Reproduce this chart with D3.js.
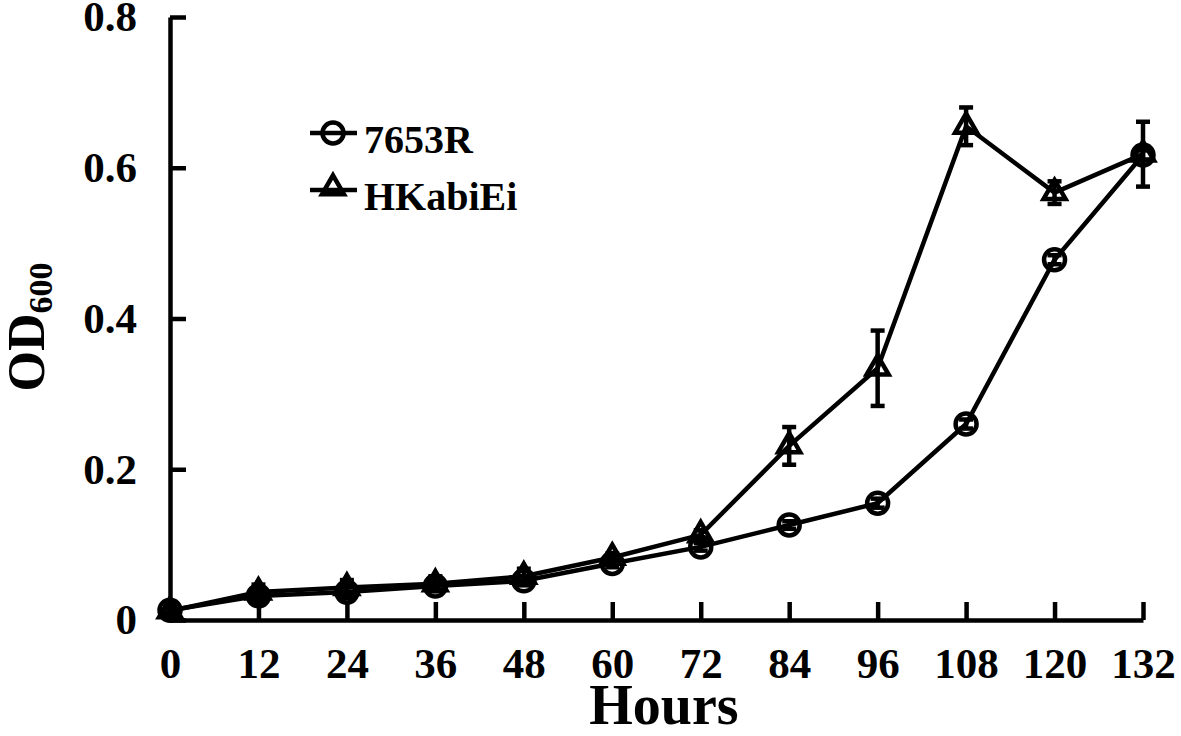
<!DOCTYPE html>
<html>
<head>
<meta charset="utf-8">
<script src="https://cdn.jsdelivr.net/npm/d3@7"></script>
<style>
  body { margin: 0; background: #fff; }
  svg { display: block; font-family: "Liberation Serif", "Times New Roman", serif; font-weight: bold; }
  .axis { font-family: "Liberation Serif", "Times New Roman", serif; }
  .axis path, .axis line { stroke: #000; stroke-width: 4.5; }
  .axis text { font-size: 43px; fill: #000; font-weight: bold; }
  .series path { fill: none; stroke: #000; stroke-width: 4.5; }
  .marker { fill: #fff; stroke: #000; stroke-width: 4.5; }
  .err line { stroke: #000; stroke-width: 4.5; }
</style>
</head>
<body>
<script>
const HOURS = [0, 12, 24, 36, 48, 60, 72, 84, 96, 108, 120, 132];
const OD_7653R = [0.013, 0.032, 0.037, 0.045, 0.052, 0.075, 0.097, 0.126, 0.155, 0.260, 0.478, 0.617];
const SD_7653R = [0.004, 0.008, 0.008, 0.006, 0.006, 0.005, 0.005, 0.005, 0.006, 0.006, 0.006, 0.006];
const OD_HK = [0.012, 0.037, 0.043, 0.048, 0.058, 0.083, 0.113, 0.231, 0.334, 0.655, 0.567, 0.618];
const SD_HK = [0.003, 0.01, 0.01, 0.01, 0.01, 0.005, 0.006, 0.025, 0.05, 0.025, 0.015, 0.043];
const Y_TICKS = [0, 0.2, 0.4, 0.6, 0.8];
const SERIES = ["7653R", "HKabiEi"];

const width = 1181, height = 736;
const x = d3.scaleLinear().domain([0, 132]).range([170, 1143]);
const y = d3.scaleLinear().domain([0, 0.8]).range([620, 17]);

const svg = d3.select("body").append("svg")
  .attr("width", width).attr("height", height);

// axes
svg.append("g")
  .attr("class", "axis")
  .attr("transform", "translate(0,620)")
  .call(d3.axisBottom(x).tickValues(HOURS).tickSize(-18).tickSizeOuter(0).tickPadding(27));

svg.append("g")
  .attr("class", "axis")
  .attr("transform", "translate(170,0)")
  .call(d3.axisLeft(y).tickValues(Y_TICKS).tickSize(-16).tickSizeOuter(0).tickPadding(33)
    .tickFormat(d => d === 0 ? "0" : d.toFixed(1)));

// axis titles
svg.append("text")
  .attr("x", 664).attr("y", 724)
  .attr("text-anchor", "middle")
  .style("font-size", "56px")
  .text("Hours");

const yt = svg.append("text")
  .attr("transform", "translate(44,327) rotate(-90)")
  .attr("text-anchor", "middle")
  .style("font-size", "52px");
yt.append("tspan").text("OD");
yt.append("tspan").attr("dy", 8).style("font-size", "34px").text("600");

const line = d3.line().x(d => x(d.h)).y(d => y(d.v));
const tri = d3.symbol().type(d3.symbolTriangle).size(210);

const drawSeries = (vals, sds, kind) => {
  const pts = HOURS.map((h, i) => ({ h, v: vals[i], sd: sds[i] }));
  const g = svg.append("g").attr("class", "series");
  g.append("path").attr("d", line(pts));

  const err = g.append("g").attr("class", "err")
    .selectAll("g").data(pts).enter().append("g");
  err.append("line")
    .attr("x1", d => x(d.h)).attr("x2", d => x(d.h))
    .attr("y1", d => y(d.v - d.sd)).attr("y2", d => y(d.v + d.sd));
  err.append("line")
    .attr("x1", d => x(d.h) - 7).attr("x2", d => x(d.h) + 7)
    .attr("y1", d => y(d.v + d.sd)).attr("y2", d => y(d.v + d.sd));
  err.append("line")
    .attr("x1", d => x(d.h) - 7).attr("x2", d => x(d.h) + 7)
    .attr("y1", d => y(d.v - d.sd)).attr("y2", d => y(d.v - d.sd));

  if (kind === "circle") {
    g.selectAll("circle").data(pts).enter().append("circle")
      .attr("class", "marker")
      .attr("cx", d => x(d.h)).attr("cy", d => y(d.v)).attr("r", 10.5)
      .style("fill-opacity", 0);
  } else {
    g.selectAll(".tri").data(pts).enter().append("path")
      .attr("class", "marker tri")
      .attr("d", tri)
      .style("fill-opacity", 0)
      .attr("transform", d => `translate(${x(d.h)},${y(d.v)})`);
  }
};

drawSeries(OD_HK, SD_HK, "triangle");
drawSeries(OD_7653R, SD_7653R, "circle");

// legend
const legend = svg.append("g").attr("class", "series");
const legY = [133, 190];
SERIES.forEach((name, i) => {
  legend.append("path").attr("d", `M310,${legY[i]}H357`);
  if (i === 0) {
    legend.append("circle").attr("class", "marker").attr("cx", 333).attr("cy", legY[i]).attr("r", 10.5)
      .style("fill-opacity", 0);
  } else {
    legend.append("path").attr("class", "marker").attr("d", tri)
      .style("fill-opacity", 0)
      .attr("transform", `translate(333,${legY[i] - 2})`);
  }
  legend.append("text")
    .attr("x", 364).attr("y", legY[i] + 20)
    .style("font-size", "40px").style("stroke", "none")
    .text(name);
});
</script>
</body>
</html>
